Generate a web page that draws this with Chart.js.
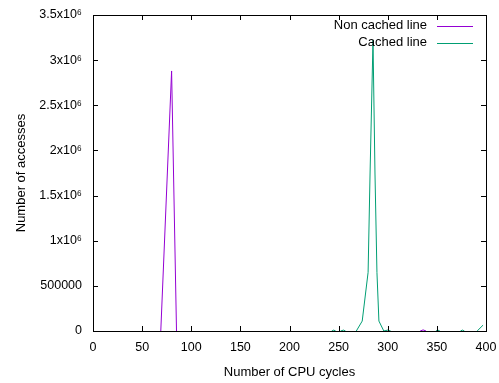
<!DOCTYPE html>
<html>
<head>
<meta charset="utf-8">
<script src="https://cdn.jsdelivr.net/npm/chart.js@4"></script>
<style>
  html, body { margin: 0; padding: 0; background: #fff; overflow: hidden; }
  #wrap { width: 499px; height: 383px; }
</style>
</head>
<body>
<div id="wrap"><canvas id="myChart"></canvas></div>
<script>
// values (cycles -> number of accesses), null = no samples in between
const nonCachedCycles = [69, 80, 85, null, 333, 336, 339];
const nonCachedCounts = [0, 2880000, 0, null, 0, 12000, 0];

const cachedCycles = [243, 245, 247, null, 252, 255, 257, null, 268, 274, 280, 282, 285, 287, 289, 291, 296, 300, 303, null,
  349, 351, 353, null, 374, 376, 378, null, 391, 397];
const cachedCounts = [0, 10000, 0, null, 0, 10000, 0, null, 0, 110000, 650000, 1750000, 3220000, 1750000, 650000, 110000, 0, 10000, 0, null,
  0, 10000, 0, null, 0, 10000, 0, null, 0, 65000];

const xTicks = [0, 50, 100, 150, 200, 250, 300, 350, 400];
const yTicks = [0, 500000, 1000000, 1500000, 2000000, 2500000, 3000000, 3500000];

const seriesNames = ["Non cached line", "Cached line"];
const seriesColors = ["#9400d3", "#009e73"];

const FONT = "'Liberation Sans', Arial, sans-serif";

function toPoints(xs, ys) {
  return xs.map((x, i) => ({ x: x === null ? (xs[i - 1] + xs[i + 1]) / 2 : x, y: ys[i] }));
}

function yLabel(v) {
  if (v === 0) return "0";
  if (v === 500000) return "500000";
  return (v / 1000000) + "x10\u2076";
}

//border, inward ticks on all four sides, and the key in the top right corner
const framePlugin = {
  id: "frame",
  afterDatasetsDraw(chart) {
    const c = chart.ctx;
    const a = chart.chartArea;
    const xs = chart.scales.x;
    const ys = chart.scales.y;
    c.save();
    c.strokeStyle = "#000";
    c.lineWidth = 1;
    c.beginPath();
    xTicks.forEach((t) => {
      const px = Math.round(xs.getPixelForValue(t)) + 0.5;
      c.moveTo(px, a.bottom);
      c.lineTo(px, a.bottom - 5);
      c.moveTo(px, a.top);
      c.lineTo(px, a.top + 5);
    });
    yTicks.forEach((t) => {
      const py = Math.round(ys.getPixelForValue(t)) + 0.5;
      c.moveTo(a.left, py);
      c.lineTo(a.left + 5, py);
      c.moveTo(a.right, py);
      c.lineTo(a.right - 5, py);
    });
    c.stroke();
    c.strokeRect(Math.round(a.left) + 0.5, Math.round(a.top) + 0.5,
      Math.round(a.right - a.left), Math.round(a.bottom - a.top));

    // key
    c.font = "13px " + FONT;
    c.textAlign = "right";
    c.textBaseline = "middle";
    seriesNames.forEach((name, i) => {
      const y = a.top + 10.5 + i * 17;
      c.fillStyle = "#000";
      c.fillText(name, a.right - 59, y);
      c.strokeStyle = seriesColors[i];
      c.beginPath();
      c.moveTo(a.right - 49, Math.round(y) + 0.5);
      c.lineTo(a.right - 13, Math.round(y) + 0.5);
      c.stroke();
    });
    c.restore();
  }
};

const ctx = document.getElementById("myChart");

const myChart = new Chart(ctx, {
  type: "line",
  data: {
    datasets: [
      {
        label: seriesNames[0],
        data: toPoints(nonCachedCycles, nonCachedCounts),
        borderColor: seriesColors[0],
        borderWidth: 1,
        pointRadius: 0,
        tension: 0,
        spanGaps: false,
      },
      {
        label: seriesNames[1],
        data: toPoints(cachedCycles, cachedCounts),
        borderColor: seriesColors[1],
        borderWidth: 1,
        pointRadius: 0,
        tension: 0,
        spanGaps: false,
      },
    ],
  },
  options: {
    responsive: true,
    maintainAspectRatio: false,
    animation: false,
    layout: { padding: { top: 15, right: 13, left: 0, bottom: 0 } },
    plugins: {
      legend: { display: false },
      tooltip: { enabled: false },
    },
    scales: {
      x: {
        type: "linear",
        min: 0,
        max: 400,
        afterBuildTicks: (s) => { s.ticks = xTicks.map((v) => ({ value: v })); },
        afterFit: (s) => { s.height = 52; s.paddingLeft = 0; s.paddingRight = 0; },
        grid: { display: false, drawTicks: false },
        border: { display: false },
        ticks: { color: "#000", padding: 9, maxRotation: 0, font: { family: FONT, size: 12.5 } },
        title: {
          display: true,
          text: "Number of CPU cycles",
          color: "#000",
          font: { family: FONT, size: 13 },
          padding: { top: 0, bottom: 3 },
        },
      },
      y: {
        min: 0,
        max: 3500000,
        afterBuildTicks: (s) => { s.ticks = yTicks.map((v) => ({ value: v })); },
        afterFit: (s) => { s.width = 93; s.paddingTop = 0; s.paddingBottom = 0; },
        grid: { display: false, drawTicks: false },
        border: { display: false },
        ticks: { color: "#000", padding: 11, callback: yLabel, font: { family: FONT, size: 12.5 } },
        title: {
          display: true,
          text: "Number of accesses",
          color: "#000",
          font: { family: FONT, size: 13 },
          padding: { top: 14, bottom: 0 },
        },
      },
    },
  },
  plugins: [framePlugin],
});
</script>
</body>
</html>
